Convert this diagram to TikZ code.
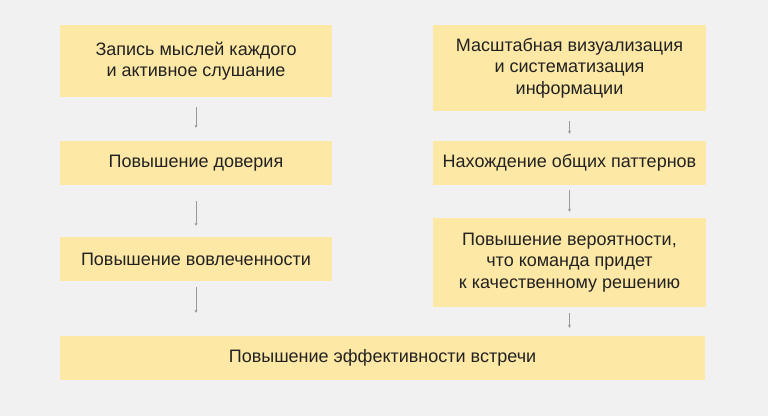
\documentclass[tikz,border=0pt]{standalone}
\usepackage{fontspec}
\setmainfont{Liberation Sans}
\usetikzlibrary{arrows.meta}
\definecolor{boxfill}{HTML}{FDE8A5}
\definecolor{bgcol}{HTML}{F1F1F1}
\definecolor{arrcol}{HTML}{9A9A9A}
\definecolor{txtcol}{HTML}{222222}

\begin{document}
\begin{tikzpicture}[x=1pt, y=-1pt, >={Stealth[length=3pt,width=3pt]}]
      \tikzstyle{stage} = [fill=boxfill, text=txtcol, font=\fontsize{18}{21.5}\selectfont,
        align=center, inner sep=0pt, minimum width=272pt, minimum height=44pt]
      \tikzstyle{link} = [->, draw=arrcol, line width=0.7pt]
      \fill[bgcol] (0,0) rectangle (768,416);
      \node (record) [stage, minimum height=72pt] at (196,61) {Запись мыслей каждого\\и активное слушание};
      \node (trust) [stage] at (196,163) {Повышение доверия};
      \node (engage) [stage] at (196,259) {Повышение вовлеченности};
      \node (visual) [stage, minimum width=273pt, minimum height=86pt] at (569.5,68)
        {Масштабная визуализация\\и систематизация\\информации};
      \node (pattern) [stage, minimum width=273pt] at (569.5,163) {Нахождение общих паттернов};
      \node (chance) [stage, minimum width=273pt, minimum height=89pt] at (569.5,262.5)
        {Повышение вероятности,\\что команда придет\\к качественному решению};
      \node (result) [stage, minimum width=645pt] at (382.5,358) {Повышение эффективности встречи};
      \draw[link, shorten <=10pt, shorten >=13pt] (record) -- (trust);
      \draw[link, shorten <=16pt, shorten >=11pt] (trust) -- (engage);
      \draw[link, shorten <=6pt, shorten >=23pt] (engage) -- (engage.south |- result.north);
      \draw[link, shorten <=10pt, shorten >=7pt] (visual) -- (pattern);
      \draw[link, shorten <=5pt, shorten >=6pt] (pattern) -- (chance);
      \draw[link, shorten <=6pt, shorten >=8pt] (chance) -- (chance.south |- result.north);
    \end{tikzpicture}
\end{document}
